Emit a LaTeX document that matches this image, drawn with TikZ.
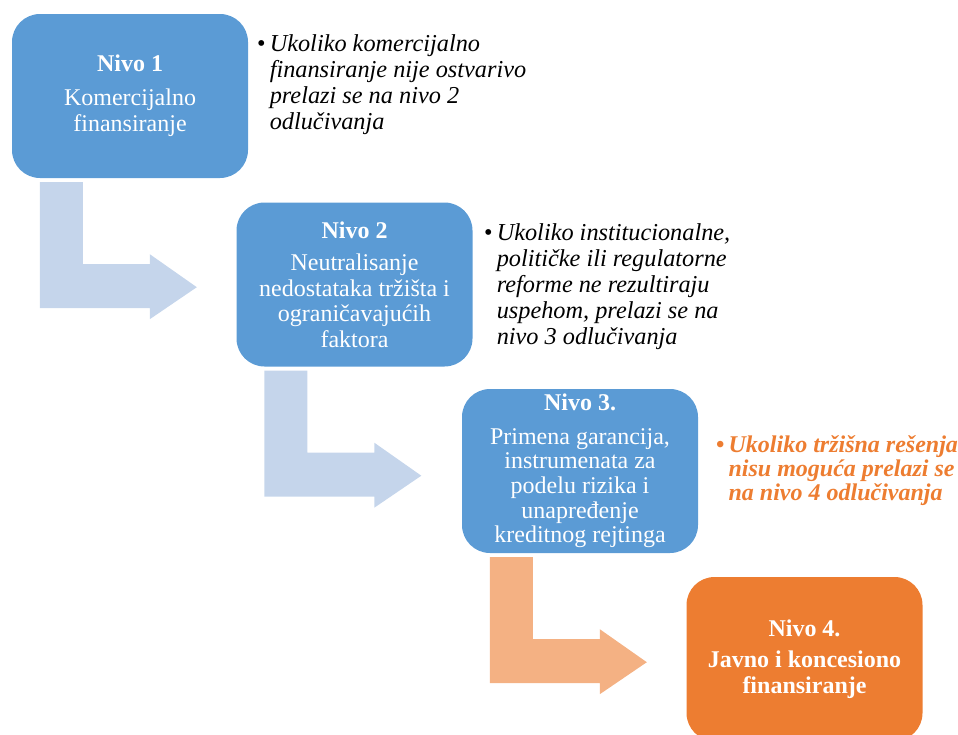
\documentclass[tikz,border=0pt]{standalone}
\usepackage{fontspec}
\setmainfont{Liberation Serif}

\definecolor{nivoplava}{HTML}{5B9BD5}
\definecolor{nivonarandz}{HTML}{ED7D31}
\definecolor{strelicaplava}{HTML}{C5D5EB}
\definecolor{strelicanarandz}{HTML}{F4B183}

\newcommand{\tacka}{\textup{\textbullet}\,}
\newcommand{\uvlaka}{\hphantom{\textbullet\,}}

\begin{document}
\begin{tikzpicture}[x=1pt, y=-1pt,
    nivo/.style={rectangle, rounded corners=28pt, fill=nivoplava, text=white,
        minimum width=236pt, minimum height=164pt, align=center, inner sep=2pt,
        font=\fontsize{24}{25.5}\selectfont},
    napomena/.style={anchor=north west, align=left, inner sep=0pt,
        font=\fontsize{24.3}{26}\selectfont\itshape}]
    % Granice slike
    \clip (0,0) rectangle (958,734);

    % ==================== 1. NIVOI ODLUCIVANJA ====================
    \node[nivo, font=\fontsize{24}{26.5}\selectfont] (n1) at (130,96) {\textbf{Nivo 1}\\[7pt]Komercijalno\\finansiranje};
    \node[nivo] (n2) at (354.5,284.5) {\textbf{Nivo 2}\\[7pt]Neutralisanje\\nedostataka tržišta i\\ograničavajućih\\faktora};
    \node[nivo, font=\fontsize{24}{24.7}\selectfont] (n3) at (580,471) {\textbf{Nivo 3.}\\[9pt]Primena garancija,\\instrumenata za\\podelu rizika i\\unapređenje\\kreditnog rejtinga};
    \node[nivo, fill=nivonarandz] (n4) at (804.5,659) {\textbf{Nivo 4.}\\[6pt]\textbf{Javno i koncesiono}\\\textbf{finansiranje}};

    % ==================== 2. SAVIJENE STRELICE ====================
    \foreach \od/\boja in {n1/strelicaplava, n2/strelicaplava, n3/strelicanarandz}
        \fill[\boja, shift={(\od.south west)}] (28,4) -- ++(43,0) -- ++(0,82)
            -- ++(67,0) -- ++(0,-10) -- ++(47,33) -- ++(-47,32) -- ++(0,-11)
            -- ++(-110,0) -- cycle;

    % ==================== 3. NAPOMENE ====================
    \node[napomena] (t1) at (257,34) {\tacka Ukoliko komercijalno\\\uvlaka finansiranje nije ostvarivo\\\uvlaka prelazi se na nivo 2\\\uvlaka odlučivanja};
    \node[napomena] (t2) at (484,223) {\tacka Ukoliko institucionalne,\\\uvlaka političke ili regulatorne\\\uvlaka reforme ne rezultiraju\\\uvlaka uspehom, prelazi se na\\\uvlaka nivo 3 odlučivanja};
    \node[napomena, text=nivonarandz, font=\fontsize{24}{24}\selectfont\bfseries\itshape] (t3) at (716,435) {\tacka Ukoliko tržišna rešenja\\\uvlaka nisu moguća prelazi se\\\uvlaka na nivo 4 odlučivanja};

\end{tikzpicture}
\end{document}
